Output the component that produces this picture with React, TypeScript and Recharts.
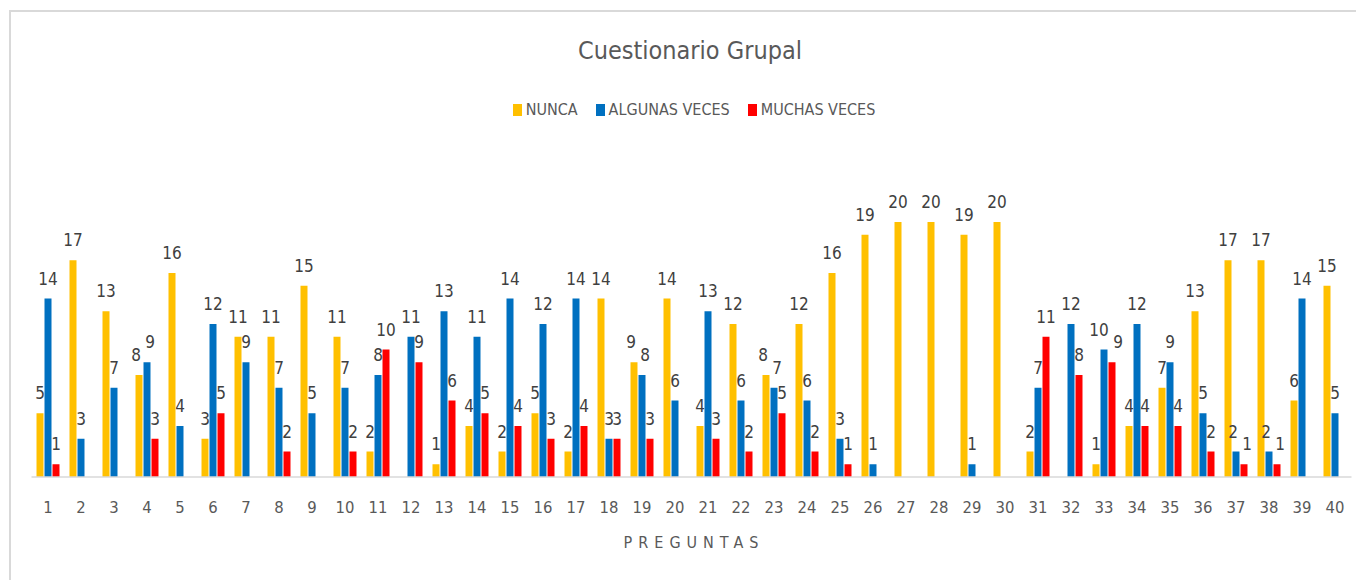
import React from 'react';
import { BarChart, Bar, XAxis, YAxis, LabelList } from 'recharts';

const preguntas = Array.from({ length: 40 }, (_, i) => String(i + 1));
const nunca = [5, 17, 13, 8, 16, 3, 11, 11, 15, 11, 2, 0, 1, 4, 2, 5, 2, 14, 9, 14, 4, 12, 8, 12, 16, 19, 20, 20, 19, 20, 2, 0, 1, 4, 7, 13, 17, 17, 6, 15];
const algunas = [14, 3, 7, 9, 4, 12, 9, 7, 5, 7, 8, 11, 13, 11, 14, 12, 14, 3, 8, 6, 13, 6, 7, 6, 3, 1, 0, 0, 1, 0, 7, 12, 10, 12, 9, 5, 2, 2, 14, 5];
const muchas = [1, 0, 0, 3, 0, 5, 0, 2, 0, 2, 10, 9, 6, 5, 4, 3, 4, 3, 3, 0, 3, 2, 5, 2, 1, 0, 0, 0, 0, 0, 11, 8, 9, 4, 4, 2, 1, 1, 0, 0];

const series = [
  { key: 'nunca', name: 'NUNCA', color: '#FFC000', values: nunca },
  { key: 'algunas', name: 'ALGUNAS VECES', color: '#0070C0', values: algunas },
  { key: 'muchas', name: 'MUCHAS VECES', color: '#FF0000', values: muchas },
];

const data = preguntas.map((p, i) => {
  const row: any = { pregunta: p };
  series.forEach((s) => (row[s.key] = s.values[i]));
  return row;
});

const FONT = "'Liberation Sans Narrow', 'DejaVu Sans Condensed', Roboto, sans-serif";
const TEXT = '#595959';
const WIDTH = 1356;
const MARGIN = { top: 150.25, right: 12.5, left: 23.5, bottom: 73 };
const BAND = (WIDTH - MARGIN.left - MARGIN.right) / preguntas.length;

const makeLabel = (si: number) => (props: any) => {
  const { x, y, width, value } = props;
  if (!value) return null;
  const idx = Math.floor((Number(x) - MARGIN.left) / BAND);
  let shift = 0;
  const next = series[si + 1]?.values[idx];
  const prev = series[si - 1]?.values[idx];
  if (next && Math.abs(next - value) === 1) shift -= Math.max(next, value) >= 10 ? 5 : 3;
  if (prev && Math.abs(prev - value) === 1) shift += Math.max(prev, value) >= 10 ? 6 : 3;
  return (
    <text x={x + width / 2 + shift} y={y - 14} textAnchor="middle" fontSize={17} fill="#404040" fontFamily={FONT}>
      {value}
    </text>
  );
};

const renderTick = (props: any) => {
  const { x, y, payload } = props;
  return (
    <text x={x} y={y + 36} textAnchor="middle" fontSize={16.5} fill={TEXT} fontFamily={FONT}>
      {payload.value}
    </text>
  );
};

export default function App() {
  return (
    <div style={{ position: 'relative', width: 1356, height: 572, background: '#fff', fontFamily: FONT }}>
      <div
        style={{
          position: 'absolute',
          left: 1,
          top: 2,
          width: 1360,
          height: 570,
          borderTop: '2px solid #d9d9d9',
          borderLeft: '2px solid #d9d9d9',
          boxSizing: 'border-box',
        }}
      />
      <div
        style={{
          position: 'absolute',
          left: 0,
          width: 1364,
          top: 28,
          textAlign: 'center',
          fontSize: 25,
          color: TEXT,
        }}
      >
        Cuestionario Grupal
      </div>
      <div
        style={{
          position: 'absolute',
          left: 0,
          width: 1372,
          top: 92,
          display: 'flex',
          justifyContent: 'center',
          gap: 18,
          fontSize: 16,
          color: TEXT,
        }}
      >
        {series.map((s) => (
          <div key={s.key} style={{ display: 'flex', alignItems: 'center' }}>
            <span style={{ display: 'inline-block', width: 9, height: 12, background: s.color, marginRight: 4 }} />
            <span>{s.name}</span>
          </div>
        ))}
      </div>
      <div
        style={{
          position: 'absolute',
          left: 0,
          width: 1372,
          top: 525,
          textAlign: 'center',
          fontSize: 16,
          letterSpacing: 6,
          color: TEXT,
        }}
      >
        PREGUNTAS
      </div>
      <div style={{ position: 'absolute', left: 0, top: 0 }}>
        <BarChart width={WIDTH} height={572} data={data} margin={MARGIN} barSize={7} barGap={1}>
          <XAxis
            dataKey="pregunta"
            height={30}
            tickLine={false}
            tickSize={0}
            tickMargin={0}
            axisLine={{ stroke: '#d9d9d9', strokeWidth: 1.5 }}
            tick={renderTick}
            interval={0}
          />
          <YAxis hide domain={[0, 25]} />
          {series.map((s, si) => (
            <Bar key={s.key} dataKey={s.key} name={s.name} fill={s.color} isAnimationActive={false}>
              <LabelList dataKey={s.key} content={makeLabel(si)} />
            </Bar>
          ))}
        </BarChart>
      </div>
    </div>
  );
}
